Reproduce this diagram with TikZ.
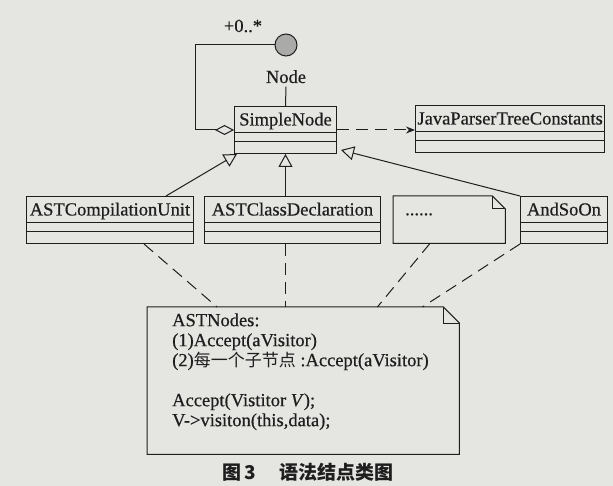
\documentclass[tikz,border=0pt]{standalone}
\usepackage{fontspec}
\setmainfont{Liberation Serif}[FakeBold=0.5]
\newfontfamily\cjk{Noto Sans CJK SC}
\usepackage{tikz}
\usetikzlibrary{arrows.meta, positioning}
\definecolor{paper}{RGB}{229, 229, 226}
\definecolor{ink}{RGB}{30, 30, 30}
\definecolor{ifacefill}{RGB}{170, 170, 168}
% note outline with a folded corner: node name, fold size
\newcommand{\noteoutline}[2]{%
  \draw[ink, line width=1pt] (#1.north west) -- ([xshift=-#2]#1.north east) -- ([yshift=-#2]#1.north east) -- (#1.south east) -- (#1.south west) -- cycle;
  \draw[ink, line width=1pt] ([xshift=-#2]#1.north east) |- ([yshift=-#2]#1.north east);}

\begin{document}
\begin{tikzpicture}[x=1pt, y=-1pt, every node/.style={font=\fontsize{18.5}{20}\selectfont, text=ink},
  classbox/.style={draw=ink, line width=1pt, fill=paper, anchor=north west, inner xsep=2pt, inner ysep=3pt,
    text height=16pt, text depth=25pt,
    path picture={
      \draw[ink, line width=1pt] ([yshift=-26pt]path picture bounding box.north west) -- ([yshift=-26pt]path picture bounding box.north east);
      \draw[ink, line width=1pt] ([yshift=-35pt]path picture bounding box.north west) -- ([yshift=-35pt]path picture bounding box.north east);}},
  notebox/.style={anchor=north west, inner xsep=12pt, inner ysep=3pt, text height=16pt, text depth=25pt, align=left},
  gen/.style={ink, line width=1pt, -{Triangle[open, length=13pt, width=14pt]}},
  notelink/.style={ink, line width=1pt, dash pattern=on 12pt off 7pt},
  depend/.style={notelink, -{Stealth[length=9pt, width=7pt]}},
  aggr/.style={ink, line width=1pt, {Diamond[open, length=19pt, width=10pt]}-}]
\path[use as bounding box, fill=paper] (0,0) rectangle (613,486);

% classes
\node[classbox, minimum width=102pt] (simple) at (234,106) {SimpleNode};
\node[classbox, minimum width=189pt] (javaconst) at (415,105) {JavaParserTreeConstants};
\node[classbox, minimum width=167pt] (cunit) at (26,196) {ASTCompilationUnit};
\node[classbox, minimum width=176pt] (classdecl) at (204,196) {ASTClassDeclaration};
\node[notebox, text width=88pt] (etc) at (393,196) {......};
\noteoutline{etc}{13pt}
\node[classbox, minimum width=87pt] (andsoon) at (520,196) {AndSoOn};

% interface lollipop
\node[circle, draw=ink, line width=1pt, fill=ifacefill, minimum size=22pt, inner sep=0pt] (iface) at (286,45) {};
\node[anchor=base] (nodelbl) at (286,83) {Node};
\node[anchor=base] (mult) at (243,32) {+0..*};
\draw[ink, line width=1pt] (simple.north) -- (nodelbl.south);
\draw[aggr] (simple.west) -- ++(-39,0) |- (iface.west);

% note
\node[anchor=north west, inner xsep=25pt, inner ysep=4pt, text height=15pt, text depth=124pt, minimum width=312pt] (astnotes) at (147,307)
  {\parbox[t]{262pt}{ASTNodes:\\(1)Accept(aVisitor)\\(2){\cjk\fontsize{17}{20}\selectfont 每一个子节点}~:Accept(aVisitor)\\[20pt]Accept(Vistitor \textit{V});\\V->visiton(this,data);}};
\noteoutline{astnotes}{16pt}

\draw[depend] (simple.east) -- (simple.east -| javaconst.west);
\draw[gen] ([xshift=-28pt]cunit.north east) -- ([xshift=3pt]simple.south west);
\draw[gen] (classdecl.north -| simple.south) -- (simple.south);
\draw[gen] (andsoon.north west) -- ([xshift=4pt, yshift=4pt]simple.south east);

\draw[notelink] ([xshift=-50pt]cunit.south east) -- ([xshift=70pt]astnotes.north west);
\draw[notelink] (classdecl.south -| simple.south) -- (astnotes.north -| simple.south);
\draw[notelink] ([xshift=37pt]etc.south west) -- ([xshift=-82pt]astnotes.north east);
\draw[notelink] (andsoon.south west) -- ([xshift=-37pt]astnotes.north east);

\node[font=\cjk\bfseries\fontsize{19}{19}\selectfont] (caption) at (308,472) {图\,3\hspace{1.2em}语法结点类图};
\end{tikzpicture}
\end{document}
